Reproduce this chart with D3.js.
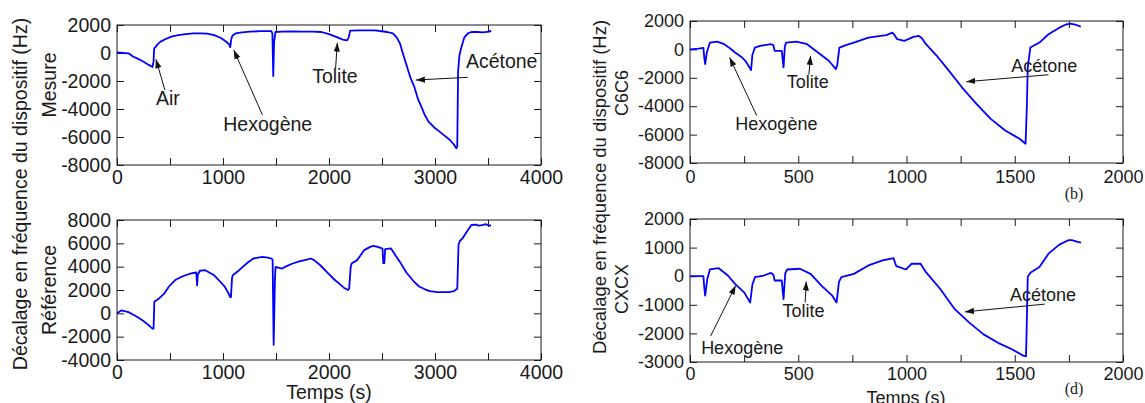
<!DOCTYPE html>
<html>
<head>
<meta charset="utf-8">
<script src="https://cdn.jsdelivr.net/npm/d3@7"></script>
<style>
  body { margin: 0; background: #fff; }
  svg { display: block; font-family: "Liberation Sans", Arial, sans-serif; }
</style>
</head>
<body>
<div id="chart"></div>
<script>
// Readings [t (s), frequency shift (Hz)] taken off the figure.
const mesure = [[0,50],[60,0],[110,-20],[150,-250],[200,-420],[250,-620],[300,-850],[335,-1000],[345,-600],[350,300],[380,600],[411,810],[460,1000],[512,1170],[580,1280],[647,1350],[720,1400],[782,1400],[850,1380],[917,1280],[985,1050],[1030,800],[1060,600],[1068,420],[1078,1000],[1090,1250],[1119,1400],[1180,1480],[1254,1520],[1350,1560],[1456,1560],[1466,1400],[1474,-1650],[1482,800],[1495,1500],[1550,1520],[1650,1550],[1750,1520],[1850,1520],[1928,1500],[2000,1350],[2062,1170],[2130,950],[2170,900],[2185,1100],[2200,1600],[2300,1620],[2433,1620],[2550,1500],[2602,1400],[2640,1100],[2669,690],[2700,-100],[2736,-976],[2770,-1800],[2804,-2400],[2840,-3300],[2871,-3833],[2905,-4450],[2939,-4905],[2990,-5300],[3040,-5600],[3090,-5900],[3141,-6214],[3175,-6500],[3201,-6800],[3210,-6700],[3218,-1300],[3230,-200],[3245,300],[3276,1100],[3310,1400],[3343,1500],[3400,1500],[3450,1480],[3512,1530],[3530,1600]];
const reference = [[0,0],[40,250],[108,100],[150,-100],[200,-350],[243,-613],[290,-950],[337,-1330],[345,-1300],[352,1000],[400,1300],[445,1684],[490,2300],[546,2830],[600,3100],[647,3263],[700,3420],[748,3500],[752,3000],[756,2400],[762,3300],[782,3650],[832,3700],[870,3500],[917,3260],[970,2750],[1018,2260],[1050,1750],[1068,1400],[1075,1400],[1085,3000],[1092,3260],[1140,3600],[1186,3980],[1240,4400],[1287,4700],[1371,4840],[1420,4780],[1456,4700],[1468,4600],[1478,-2700],[1490,3000],[1496,3980],[1530,3900],[1557,3840],[1600,4050],[1658,4270],[1720,4450],[1790,4600],[1826,4700],[1860,4560],[1920,4100],[1995,3400],[2050,2900],[2096,2550],[2140,2200],[2180,2000],[2190,2100],[2205,4000],[2214,4270],[2265,4560],[2300,5000],[2332,5420],[2380,5650],[2416,5790],[2460,5700],[2505,5550],[2512,4300],[2522,4300],[2530,5500],[2585,5560],[2625,5000],[2669,4410],[2730,3500],[2804,2690],[2850,2300],[2905,2060],[2950,1900],[3006,1830],[3070,1820],[3141,1830],[3180,1900],[3201,2060],[3210,2100],[3222,5900],[3235,6200],[3259,6420],[3300,7000],[3343,7570],[3390,7600],[3411,7510],[3444,7570],[3478,7650],[3500,7550],[3529,7510]];
const c6c6 = [[0,0],[40,50],[62,100],[66,-600],[70,-1040],[78,-200],[92,480],[125,550],[158,365],[183,100],[208,-220],[241,-570],[260,-900],[275,-1270],[282,-1460],[288,-400],[300,130],[324,250],[374,365],[385,300],[391,-100],[424,-100],[428,-700],[432,-1270],[438,200],[444,480],[491,550],[541,365],[591,-220],[641,-800],[674,-1390],[680,-1100],[690,130],[720,300],[757,480],[824,830],[880,950],[907,1000],[935,1180],[945,1000],[957,715],[990,600],[1032,880],[1057,950],[1070,800],[1090,365],[1140,-450],[1190,-1390],[1256,-2670],[1323,-3840],[1389,-4890],[1456,-5710],[1522,-6290],[1550,-6640],[1556,-4000],[1560,-1270],[1572,130],[1614,480],[1656,1065],[1706,1530],[1739,1770],[1756,1810],[1780,1750],[1797,1650],[1805,1600]];
const cxcx = [[0,0],[40,0],[62,0],[66,-400],[70,-680],[80,-100],[92,235],[133,280],[175,24],[208,-270],[250,-565],[278,-920],[288,-300],[300,-35],[341,24],[374,118],[385,50],[391,-150],[424,-150],[428,-500],[432,-800],[440,100],[449,235],[507,260],[557,82],[607,-330],[657,-680],[677,-920],[688,-200],[699,-35],[757,82],[824,376],[890,553],[940,635],[948,450],[953,353],[998,235],[1023,435],[1065,435],[1090,141],[1156,-447],[1223,-1153],[1290,-1624],[1356,-2035],[1423,-2330],[1489,-2565],[1539,-2776],[1552,-2800],[1556,-1500],[1560,-24],[1572,118],[1614,318],[1656,788],[1706,1106],[1747,1259],[1764,1259],[1790,1200],[1806,1176]];

// Annotations: label, label position (data), arrow tail (data), arrow tip (data)
const notesMesure = [
  ['Air', [480, -3240], [452, -2643], [367, -452]],
  ['Hexogène', [1422, -5071], [1372, -4429], [1102, 214]],
  ['Tolite', [2056, -1643], [2062, -1095], [2079, 738]],
  ['Acétone', [3629, -619], [3309, -1738], [2820, -1929]]
];
const notesC6C6 = [
  ['Hexogène', [399, -5243], [308, -4659], [183, -570]],
  ['Tolite', [544, -2252], [549, -1785], [557, -453]],
  ['Acétone', [1636, -1154], [1656, -1785], [1276, -2276]]
];
const notesCXCX = [
  ['Hexogène', [241, -2506], [95, -2094], [211, -329]],
  ['Tolite', [524, -1212], [532, -918], [537, -188]],
  ['Acétone', [1631, -647], [1639, -976], [1270, -1247]]
];

const W = 1145, H = 403;
const svg = d3.select('#chart').append('svg').attr('width', W).attr('height', H);

svg.append('defs').append('marker')
  .attr('id', 'head').attr('viewBox', '0 0 10 10')
  .attr('refX', 10).attr('refY', 5)
  .attr('markerWidth', 9).attr('markerHeight', 9)
  .attr('markerUnits', 'userSpaceOnUse')
  .attr('orient', 'auto')
  .append('path').attr('d', 'M0,1.5L10,5L0,8.5Z').attr('fill', '#111');

const panels = [
  { data: mesure, notes: notesMesure, name: 'Mesure', nameY: 85, box: [117, 25, 541, 165],
    xMax: 4000, xLab: 1000, xMinor: 500, yDom: [-8000, 2000], yStep: 2000, fs: 19.5, pad: 5 },
  { data: reference, notes: [], name: 'Référence', nameY: 290, box: [117, 220, 541, 360],
    xMax: 4000, xLab: 1000, xMinor: 500, yDom: [-4000, 8000], yStep: 2000, fs: 19.5, pad: 5 },
  { data: c6c6, notes: notesC6C6, name: 'C6C6', nameY: 93, box: [690, 21, 1123, 163],
    xMax: 2000, xLab: 500, xMinor: 250, yDom: [-8000, 2000], yStep: 2000, fs: 18, pad: 7 },
  { data: cxcx, notes: notesCXCX, name: 'CXCX', nameY: 289, box: [690, 219, 1123, 362],
    xMax: 2000, xLab: 500, xMinor: 250, yDom: [-3000, 2000], yStep: 1000, fs: 18, pad: 5 }
];

const ink = '#1a1a1a';

panels.forEach((p) => {
  const [x0, y0, x1, y1] = p.box;
  const fs = p.fs + 'px';
  const x = d3.scaleLinear().domain([0, p.xMax]).range([x0, x1]);
  const y = d3.scaleLinear().domain(p.yDom).range([y1, y0]);
  const xLabels = d3.range(0, p.xMax + 1, p.xLab);
  const xMinor = d3.range(0, p.xMax + 1, p.xMinor);
  const yVals = d3.range(p.yDom[0], p.yDom[1] + 1, p.yStep);
  const plain = (d) => String(d);
  const g = svg.append('g');

  const tidy = (sel) => {
    sel.select('.domain').remove();
    sel.selectAll('line').attr('stroke', ink);
    sel.selectAll('text').attr('fill', ink).style('font-size', fs).style('font-family', null);
  };

  g.append('g').attr('transform', `translate(0,${y1})`)
    .call(d3.axisBottom(x).tickValues(xMinor).tickSize(-7).tickFormat('')).call(tidy);
  g.append('g').attr('transform', `translate(0,${y1})`)
    .call(d3.axisBottom(x).tickValues(xLabels).tickSize(0).tickPadding(p.pad).tickFormat(plain)).call(tidy);
  g.append('g').attr('transform', `translate(0,${y0})`)
    .call(d3.axisTop(x).tickValues(xMinor).tickSize(-7).tickFormat('')).call(tidy);
  g.append('g').attr('transform', `translate(${x0},0)`)
    .call(d3.axisLeft(y).tickValues(yVals).tickSize(-7).tickPadding(6).tickFormat(plain)).call(tidy);
  g.append('g').attr('transform', `translate(${x1},0)`)
    .call(d3.axisRight(y).tickValues(yVals).tickSize(-7).tickFormat('')).call(tidy);

  g.append('rect').attr('x', x0).attr('y', y0)
    .attr('width', x1 - x0).attr('height', y1 - y0)
    .attr('fill', 'none').attr('stroke', ink).attr('stroke-width', 1);

  const line = d3.line().x((d) => x(d[0])).y((d) => y(d[1]));
  g.append('path').datum(p.data)
    .attr('fill', 'none').attr('stroke', '#0000ff')
    .attr('stroke-width', 1.8).attr('stroke-linejoin', 'round')
    .attr('d', line);

  p.notes.forEach(([txt, at, from, to]) => {
    g.append('line')
      .attr('x1', x(from[0])).attr('y1', y(from[1]))
      .attr('x2', x(to[0])).attr('y2', y(to[1]))
      .attr('stroke', '#111').attr('stroke-width', 1)
      .attr('marker-end', 'url(#head)');
    g.append('text')
      .attr('x', x(at[0])).attr('y', y(at[1]))
      .attr('text-anchor', 'middle').attr('dy', '0.35em')
      .attr('fill', ink).style('font-size', fs).text(txt);
  });

  // panel name (rotated)
  svg.append('text')
    .attr('transform', `translate(${x0 - 68},${p.nameY}) rotate(-90)`)
    .attr('text-anchor', 'middle').attr('dy', '0.35em')
    .attr('fill', ink).style('font-size', fs).text(p.name);
});

// shared y titles and x titles
[[20, 194, 19.5], [600, 187, 18.5]].forEach(([cx, cy, size]) => {
  svg.append('text')
    .attr('transform', `translate(${cx},${cy}) rotate(-90)`)
    .attr('text-anchor', 'middle').attr('dy', '0.35em')
    .attr('fill', ink).style('font-size', size + 'px')
    .text('Décalage en fréquence du dispositif (Hz)');
});
[[329, 399, 19.5], [906, 404, 18]].forEach(([cx, by, size]) => {
  svg.append('text').attr('x', cx).attr('y', by)
    .attr('text-anchor', 'middle')
    .attr('fill', ink).style('font-size', size + 'px').text('Temps (s)');
});
[['(b)', 193], ['(d)', 388]].forEach(([t, cy]) => {
  svg.append('text').attr('x', 1074).attr('y', cy).attr('dy', '0.35em')
    .attr('text-anchor', 'middle')
    .attr('fill', ink).style('font-family', '"Liberation Serif", "DejaVu Serif", serif')
    .style('font-size', '16px').text(t);
});
</script>
</body>
</html>
